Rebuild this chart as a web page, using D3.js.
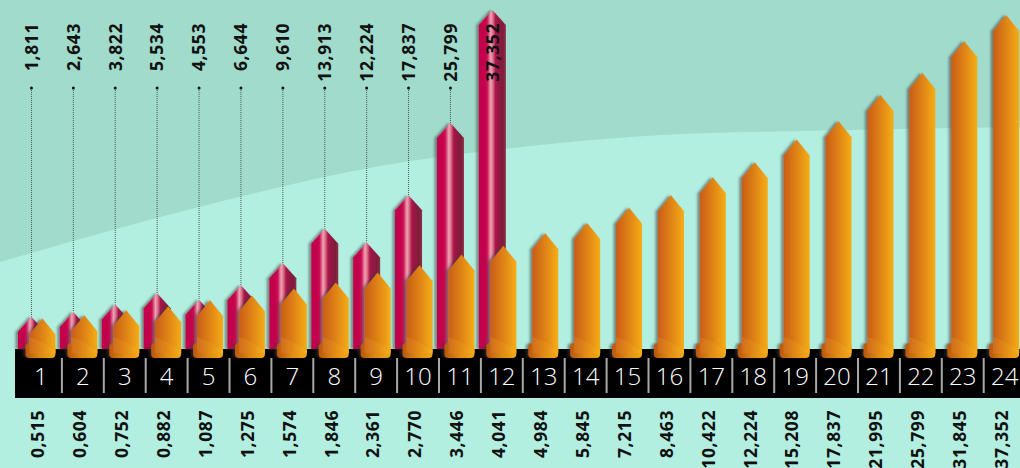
<!DOCTYPE html>
<html><head><meta charset="utf-8">
<script src="https://cdn.jsdelivr.net/npm/d3@7"></script>
<style>html,body{margin:0;padding:0;overflow:hidden;background:#a0dbcb}</style>
</head><body><svg id="c" width="1020" height="468"></svg>
<script>
const categories = [1,2,3,4,5,6,7,8,9,10,11,12,13,14,15,16,17,18,19,20,21,22,23,24];
const redCategories = [1,2,3,4,5,6,7,8,9,10,11,12];
const redValues = [1811, 2643, 3822, 5534, 4553, 6644, 9610, 13913, 12224, 17837, 25799, 37352];
const orangeValues = [515, 604, 752, 882, 1087, 1275, 1574, 1846, 2361, 2770, 3446, 4041, 4984, 5845, 7215, 8463, 10422, 12224, 15208, 17837, 21995, 25799, 31845, 37352];

const fmt = v => Math.floor(v / 1000) + "," + String(v % 1000).padStart(3, "0");

const W = 1020, H = 468;
const svg = d3.select("#c");
const defs = svg.append("defs");

const og = defs.append("linearGradient").attr("id", "og").attr("x1", 0).attr("x2", 1).attr("y1", 0).attr("y2", 0);
[[0, "#c95d16"], [0.45, "#dd7f12"], [1, "#f5ad16"]].forEach(s => og.append("stop").attr("offset", s[0]).attr("stop-color", s[1]));
const og2 = defs.append("linearGradient").attr("id", "og2").attr("x1", 0).attr("x2", 1).attr("y1", 0).attr("y2", 0);
[[0, "#b9560f"], [0.5, "#e08a14"], [1, "#f3a91a"]].forEach(s => og2.append("stop").attr("offset", s[0]).attr("stop-color", s[1]));
const rg = defs.append("linearGradient").attr("id", "rg").attr("x1", 0).attr("x2", 1).attr("y1", 0).attr("y2", 0);
[[0, "#c2004b"], [0.3, "#c6084f"], [0.44, "#eea4b4"], [0.52, "#dc7088"], [0.62, "#a8164a"], [0.88, "#7c1c3a"], [1, "#8e3048"]].forEach(s => rg.append("stop").attr("offset", s[0]).attr("stop-color", s[1]));
const f = defs.append("filter").attr("id", "sh").attr("x", -0.5).attr("y", -0.2).attr("width", 2).attr("height", 1.4);
f.append("feDropShadow").attr("dx", -2.5).attr("dy", 0).attr("stdDeviation", 1.1).attr("flood-color", "#3a3a3a").attr("flood-opacity", 0.55);

// background regions
svg.append("rect").attr("width", W).attr("height", H).attr("fill", "#a0dbcb");
const boundary = [[0, 262], [195, 208], [380, 166], [540, 145], [680, 134], [800, 131], [1020, 127]];
const area = d3.area().x(d => d[0]).y0(H).y1(d => d[1]).curve(d3.curveMonotoneX);
svg.append("path").attr("d", area(boundary)).attr("fill", "#b2efe0");

const x = d3.scaleBand().domain(categories).range([20, 1025.6]).padding(0);
const cx = c => x(c) + x.bandwidth() / 2;
const BASE = 349;
const yOrange = d3.scalePow().exponent(0.5).domain([0, 37352]).range([359, 15]);
const yRed = d3.scalePow().exponent(1.2).domain([0, 37352]).range([325, 10]);

// black band
svg.append("rect").attr("x", 15).attr("y", BASE).attr("width", W).attr("height", 49).attr("fill", "#000");
svg.append("g").selectAll("line").data(categories.slice(1)).join("line")
  .attr("x1", d => x(d)).attr("x2", d => x(d)).attr("y1", 358).attr("y2", 393)
  .attr("stroke", "#a8a8a8").attr("stroke-width", 2);

const pencil = (xc, tip, hw, drop, bottom) =>
  `M${xc - hw},${bottom}L${xc - hw},${tip + drop}L${xc},${tip}L${xc + hw},${tip + drop}L${xc + hw},${bottom}Z`;

// leader lines for red labels
const LABEL_END = 23, DOT_Y = 88;
const redData = redCategories.map((c, i) => ({ c, v: redValues[i], xc: cx(c) - 9.5 }));
const lead = svg.append("g");
redData.filter(d => yRed(d.v) > DOT_Y + 2).forEach(d => {
  lead.append("line").attr("x1", d.xc).attr("x2", d.xc).attr("y1", DOT_Y).attr("y2", yRed(d.v))
    .attr("stroke", "#4a5a55").attr("stroke-width", 1).attr("stroke-dasharray", "1,1");
  lead.append("circle").attr("cx", d.xc).attr("cy", DOT_Y).attr("r", 1.5).attr("fill", "#111");
});

// red bars
svg.append("g").selectAll("path").data(redData).join("path")
  .attr("d", d => pencil(d.xc, yRed(d.v), 13.5, 15, BASE))
  .attr("fill", "url(#rg)").attr("filter", "url(#sh)");

// orange bars
const orangeData = categories.map((c, i) => ({ c, v: orangeValues[i], xc: cx(c) + 1.5 }));
const og_ = svg.append("g").selectAll("g").data(orangeData).join("g").attr("filter", "url(#sh)");
og_.append("rect")
  .attr("x", d => d.xc - 17).attr("y", BASE - 6).attr("width", 30).attr("height", 15).attr("rx", 4)
  .attr("fill", "url(#og2)");
og_.append("path")
  .attr("d", d => pencil(d.xc, yOrange(d.v), 13, 16, BASE + 4))
  .attr("fill", "url(#og)");
og_.append("path")
  .attr("d", d => `M${d.xc - 13},${BASE - 12}Q${d.xc},${BASE - 8} ${d.xc + 13},${BASE + 2}L${d.xc + 13},${BASE + 4}L${d.xc - 13},${BASE + 4}Z`)
  .attr("fill", "#f7c040").attr("opacity", 0.16);

// category numbers
svg.append("g").selectAll("text").data(categories).join("text")
  .attr("x", d => cx(d)).attr("y", 376).attr("dy", "0.36em")
  .attr("text-anchor", "middle").attr("fill", "#fff")
  .attr("font-family", "'Open Sans', sans-serif").attr("font-weight", 300).attr("font-size", 24)
  .text(d => d);

// top red labels
svg.append("g").selectAll("text").data(redData).join("text")
  .attr("transform", d => `translate(${d.xc},${LABEL_END}) rotate(-90)`)
  .attr("dy", "0.36em").attr("text-anchor", "end")
  .attr("font-family", "'Open Sans', sans-serif").attr("font-weight", 700).attr("font-size", 17.5)
  .attr("letter-spacing", 0.6).attr("fill", "#111")
  .text(d => fmt(d.v));

// bottom orange labels
svg.append("g").selectAll("text").data(orangeData).join("text")
  .attr("transform", d => `translate(${cx(d.c) - 3},410) rotate(-90)`)
  .attr("dy", "0.36em").attr("text-anchor", "end")
  .attr("font-family", "'Open Sans', sans-serif").attr("font-weight", 700).attr("font-size", 17.5)
  .attr("letter-spacing", 0.6).attr("fill", "#111")
  .text(d => fmt(d.v));
</script></body></html>
